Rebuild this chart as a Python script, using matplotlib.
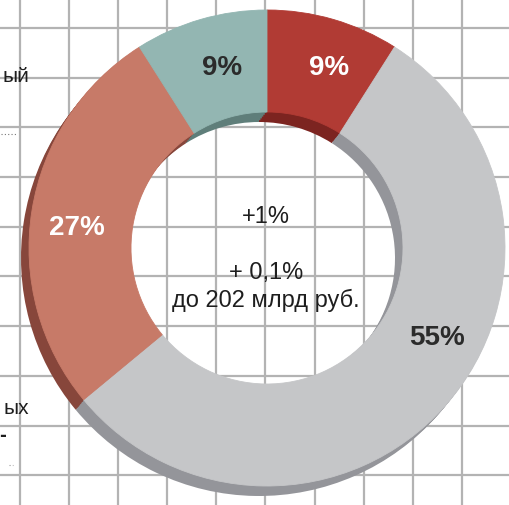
import numpy as np
import matplotlib
matplotlib.use("Agg")
import matplotlib.pyplot as plt

# доли сегментов по часовой стрелке от 12 часов
shares = [9, 55, 27, 9]
labels = ["9%", "55%", "27%", "9%"]
face_colors = ["#b13b34", "#c5c6c8", "#c77a68", "#93b6b2"]
side_colors = ["#7c2420", "#94959a", "#87463b", "#5f7e7a"]
label_colors = ["white", "#2b2b2b", "white", "#2b2b2b"]
label_angles = [71, -28, 174, 104]
label_r = [190, 192, 191, 185]

center_lines = ["+1%", "+ 0,1%", "до 202 млрд руб."]
center_y = [288, 232, 205]

W, H = 510, 505
fig = plt.figure(figsize=(W / 100, H / 100), dpi=100)
ax = fig.add_axes([0, 0, 1, 1])

# сетка на фоне
for gx in np.arange(20, W + 5, 49.1):
    ax.axvline(gx, color="#b3b3b3", lw=1.6, zorder=0)
for gy in np.arange(H - 28, -5, -49.7):
    ax.axhline(gy, color="#b3b3b3", lw=1.6, zorder=0)

cx, cy = 267, 257
R, ring = 238, 102
dx, dy = -8, -10

# боковая грань (объём)
for t in np.linspace(1, 0.1, 6):
    ax.pie(shares, colors=side_colors, startangle=90, counterclock=False,
           radius=R, center=(cx + dx * t, cy + dy * t),
           wedgeprops=dict(width=ring, linewidth=0.4, edgecolor="none"))

wedges, _ = ax.pie(shares, colors=face_colors, startangle=90, counterclock=False,
                   radius=R, center=(cx, cy),
                   wedgeprops=dict(width=ring, linewidth=0.6))
for w, c in zip(wedges, face_colors):
    w.set_edgecolor(c)

for lab, ang, r, col in zip(labels, label_angles, label_r, label_colors):
    a = np.deg2rad(ang)
    ax.text(cx + r * np.cos(a), cy + r * np.sin(a), lab, ha="center", va="center",
            fontsize=20, fontweight="bold", color=col, family=["Liberation Sans", "DejaVu Sans"])

for txt, y in zip(center_lines, center_y):
    ax.text(266, y, txt, ha="center", va="center", fontsize=17, color="#1e1e1e",
            family=["Liberation Sans Narrow", "Liberation Sans", "DejaVu Sans"])

# обрывки подписей слева
side = dict(fontsize=15, color="#1e1e1e", family=["Liberation Sans Narrow", "Liberation Sans", "DejaVu Sans"])
ax.text(2, H - 77, "ый", ha="left", va="center", **side)
ax.text(29, H - 408, "ых", ha="right", va="center", **side)
ax.text(3, H - 436, "-", ha="center", va="center", fontsize=12, fontweight="bold", color="#1e1e1e")
ax.plot([1, 17], [H - 134, H - 134], ls=(0, (1, 2)), color="#777777", lw=0.8)
ax.plot([9, 13], [H - 465, H - 465], ls=(0, (1, 2)), color="#999999", lw=0.8)

ax.set_xlim(0, W)
ax.set_ylim(0, H)
ax.set_aspect("auto")
ax.axis("off")
fig.savefig("out.png", dpi=100, facecolor="white")
